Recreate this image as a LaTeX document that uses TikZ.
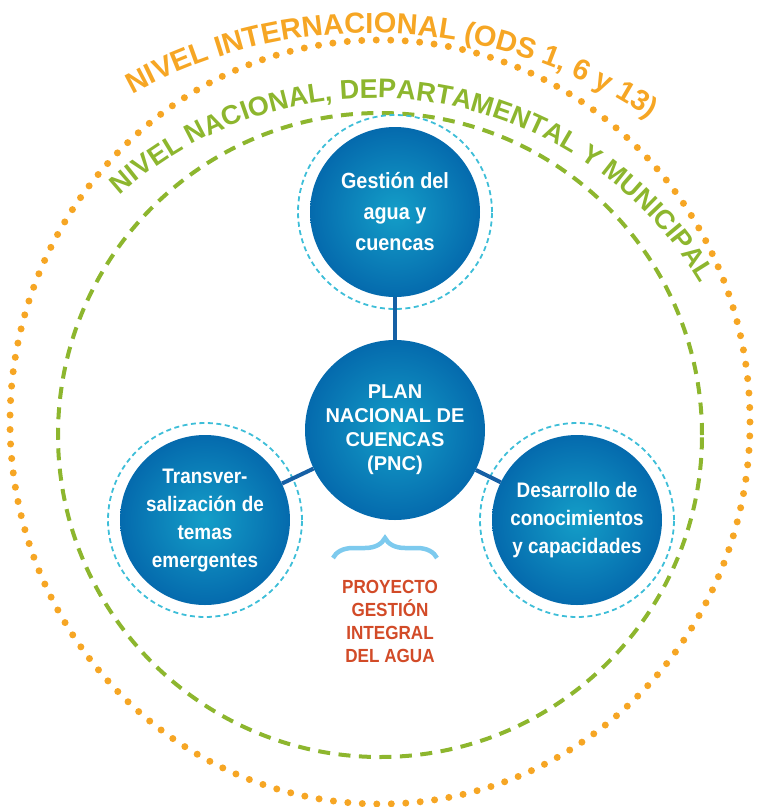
\documentclass[tikz,border=0pt]{standalone}
\usepackage{fontspec}
\setmainfont{Liberation Sans}
\newfontfamily\condfont[FakeStretch=0.9]{Liberation Sans}
\usetikzlibrary{positioning,decorations.text,decorations.pathreplacing}

\definecolor{naranja}{RGB}{246,166,36}
\definecolor{verde}{RGB}{141,182,46}
\definecolor{celeste}{RGB}{62,190,216}
\definecolor{llavecol}{RGB}{125,202,238}
\definecolor{rojizo}{RGB}{210,75,40}
\definecolor{enlacecol}{RGB}{22,96,165}
\definecolor{esferacentro}{RGB}{20,158,200}
\definecolor{esferamedio}{RGB}{4,104,172}
\definecolor{esferaborde}{RGB}{8,66,140}
\definecolor{esferarim}{RGB}{6,52,118}
\pgfdeclareradialshading{esfera}{\pgfpoint{0bp}{0bp}}{color(0bp)=(esferacentro); color(26bp)=(esferamedio); color(45bp)=(esferaborde); color(50bp)=(esferarim)}

\newcommand\arcoint{\bfseries\fontsize{29}{29}\selectfont}
\newcommand\arconac{\bfseries\fontsize{27}{27}\selectfont}

\begin{document}
\begin{tikzpicture}[x=1pt,y=1pt,
    esfera/.style={circle, shading=esfera, minimum size=170pt, inner sep=0pt, text=white, align=center,
        font=\condfont\bfseries\fontsize{21}{28}\selectfont},
    anillo/.style={celeste, line width=1.8pt, dash pattern=on 5pt off 3.5pt},
    enlace/.style={enlacecol, line width=4pt},
    puntos/.style={naranja, line width=7pt, line cap=round, dash pattern=on 0pt off 14.5pt},
    guiones/.style={verde, line width=4pt, dash pattern=on 12pt off 8.5pt},
    llave/.style={llavecol, line width=4.5pt, decorate, decoration={brace, amplitude=20pt}},
    proyecto/.style={text=rojizo, align=center, inner sep=0pt, font=\condfont\bfseries\fontsize{19}{23}\selectfont},
    on grid]
    \useasboundingbox (0,0) rectangle (757,-807);
    \draw[puntos] (380,-422) ellipse [x radius=370, y radius=382];
    \draw[guiones] (380,-435) circle (322);
    \path[decorate, decoration={text along path, text align=center, text color=naranja,
        text={|\arcoint|NIVEL INTERNACIONAL (ODS 1, 6 y 13)}}]
        (371,-529) ++(121:496) arc[start angle=121, end angle=53.6, radius=496];
    \path[decorate, decoration={text along path, text align=center, text color=verde,
        text={|\arconac|NIVEL NACIONAL, DEPARTAMENTAL Y MUNICIPAL}}]
        (374,-478) ++(133:380) arc[start angle=133, end angle=29.8, radius=380];

    \node[esfera, minimum size=180pt, font=\bfseries\fontsize{20}{24}\selectfont] (plan) at (395,-430)
        {PLAN\\NACIONAL DE\\CUENCAS\\(PNC)};
    \node[esfera, above=218pt of plan, font=\condfont\bfseries\fontsize{22}{31}\selectfont] (gestion)
        {Gestión del\\agua y\\cuencas};
    \node[esfera, below right=90pt and 182pt of plan] (desarrollo) {Desarrollo de\\conocimientos\\y capacidades};
    \node[esfera, below left=90pt and 190pt of plan] (transversal) {Transver-\\salización de\\temas\\emergentes};
    \foreach \n in {gestion,desarrollo,transversal}
        \draw[anillo] (\n.center) circle (97);
    \draw[enlace] (plan) -- (gestion);
    \draw[enlace] (plan) -- (desarrollo);
    \draw[enlace] (plan) -- (transversal);

    \node[proyecto, below left=191pt and 5pt of plan] (gia) {PROYECTO\\GESTIÓN\\INTEGRAL\\DEL AGUA};
    \coordinate (llaveizq) at (333,-558);
    \coordinate (llaveder) at (437,-558);
    \draw[llave] (llaveizq) -- (llaveder);
\end{tikzpicture}
\end{document}
